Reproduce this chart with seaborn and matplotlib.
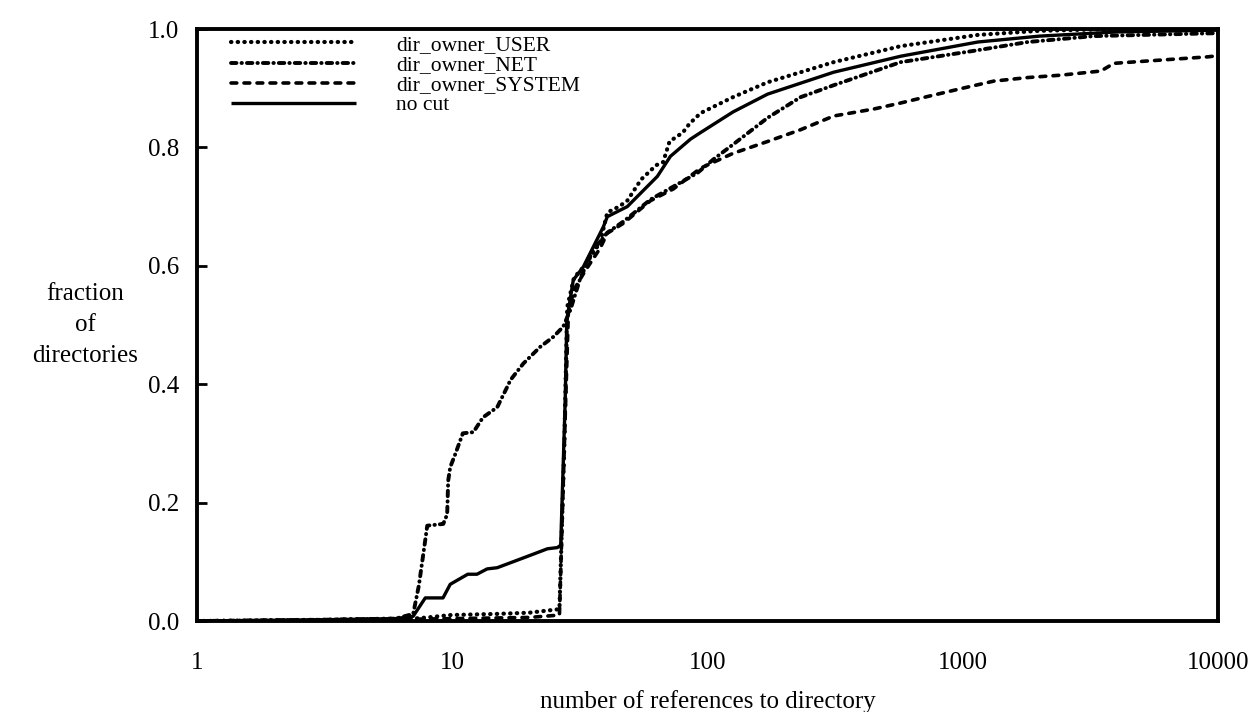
import numpy as np
import pandas as pd
import matplotlib
matplotlib.use("Agg")
import matplotlib.pyplot as plt
import seaborn as sns

# ---- data (x: number of references, y: cumulative fraction) ----
user_x = [1, 3, 6, 7, 8, 9.8, 12, 15, 20, 26.3, 27.5, 28.2, 30, 33, 38, 40.5, 45, 48.5, 52, 55,
          63, 67, 71, 80, 85, 94, 126, 172, 312, 571, 1145, 2000, 4000, 10000]
user_y = [0.0, 0.002, 0.004, 0.004, 0.006, 0.01, 0.011, 0.012, 0.014, 0.02, 0.3, 0.53, 0.58, 0.6, 0.64, 0.69, 0.70, 0.71, 0.73, 0.746,
          0.77, 0.775, 0.81, 0.825, 0.84, 0.858, 0.885, 0.91, 0.944, 0.971, 0.99, 0.997, 1.0, 1.0]

net_x = [1, 3, 6, 7.03, 7.4, 7.8, 7.98, 9.22, 9.55, 9.64, 9.82, 10.3, 11.0, 12.1, 13.2, 15.0, 16.4, 16.9,
         19.0, 22.1, 24.9, 27.2, 29.0, 31.8, 35.7, 40.5, 46.9, 59.8, 73.6, 91.4, 105.6, 126, 172, 232, 312,
         571, 1100, 1798, 3264, 10000]
net_y = [0.0, 0.002, 0.004, 0.012, 0.06, 0.13, 0.161, 0.164, 0.18, 0.237, 0.26, 0.283, 0.317, 0.319, 0.344, 0.361, 0.395, 0.407,
         0.435, 0.463, 0.48, 0.497, 0.525, 0.58, 0.627, 0.656, 0.675, 0.712, 0.734, 0.757, 0.78, 0.805, 0.85, 0.885, 0.905,
         0.944, 0.963, 0.978, 0.988, 0.993]

sys_x = [1, 3, 6, 7, 10, 20, 26.3, 27.5, 28.5, 30, 33, 38, 40.5, 46.9, 59.8, 73.6, 94, 126, 172, 232, 312,
         450, 571, 729, 1000, 1324, 1798, 2421, 3475, 3910, 5310, 9140, 10000]
sys_y = [0.0, 0.001, 0.002, 0.003, 0.004, 0.006, 0.01, 0.3, 0.52, 0.56, 0.59, 0.63, 0.655, 0.672, 0.71, 0.73, 0.765, 0.79, 0.81, 0.83, 0.853,
         0.865, 0.875, 0.886, 0.90, 0.912, 0.918, 0.922, 0.929, 0.942, 0.946, 0.953, 0.955]

nocut_x = [1, 3, 6, 7.03, 7.84, 9.2, 9.82, 11.5, 12.5, 13.7, 15.0, 17.3, 20.8, 23.6, 25.8, 26.6, 27.7, 28.1,
           29.8, 32.6, 39.1, 40.5, 48.5, 63.6, 71.6, 85.8, 93.9, 126, 172, 312, 571, 1145, 2000, 4000, 10000]
nocut_y = [0.0, 0.002, 0.004, 0.008, 0.039, 0.039, 0.062, 0.079, 0.079, 0.088, 0.09, 0.10, 0.113, 0.122, 0.124, 0.128, 0.373, 0.508,
           0.576, 0.598, 0.666, 0.683, 0.70, 0.751, 0.785, 0.814, 0.825, 0.86, 0.89, 0.927, 0.954, 0.978, 0.988, 0.995, 0.998]

labels = ["dir_owner_USER", "dir_owner_NET", "dir_owner_SYSTEM", "no cut"]
xticks = [1, 10, 100, 1000, 10000]
xtick_labels = ["1", "10", "100", "1000", "10000"]
yticks = [0.0, 0.2, 0.4, 0.6, 0.8, 1.0]
ytick_labels = ["0.0", "0.2", "0.4", "0.6", "0.8", "1.0"]

sns.set_theme(style="white")
plt.rcParams["font.family"] = ["Liberation Serif", "DejaVu Serif"]

fig = plt.figure(figsize=(12.54, 7.12), dpi=100)
ax = fig.add_axes([197 / 1254, 1 - 621 / 712, (1218 - 197) / 1254, (621 - 29) / 712])

series = [
    (user_x, user_y, labels[0], (0, (0.1, 1.5)), 3.0),
    (net_x, net_y, labels[1], (0, (1.4, 1.3, 0.1, 1.3)), 2.8),
    (sys_x, sys_y, labels[2], (0, (1.6, 2.0)), 2.6),
    (nocut_x, nocut_y, labels[3], "-", 2.4),
]
for xs, ys, lab, ls, lw in series:
    df = pd.DataFrame({"x": xs, "y": ys})
    sns.lineplot(data=df, x="x", y="y", ax=ax, color="black", linewidth=lw,
                 linestyle=ls, dash_capstyle="round", solid_capstyle="butt",
                 estimator=None, sort=False, label=lab)

ax.set_xscale("log")
ax.set_xlim(1, 10000)
ax.set_ylim(0, 1)
ax.set_xticks(xticks)
ax.set_xticklabels(xtick_labels)
ax.minorticks_off()
ax.set_yticks(yticks)
ax.set_yticklabels(ytick_labels)
ax.tick_params(axis="x", length=0, pad=22, labelsize=18, colors="black")
ax.tick_params(axis="y", direction="in", length=7, width=2, pad=13, labelsize=18,
               colors="black", left=True)
for sp in ax.spines.values():
    sp.set_linewidth(2.8)
    sp.set_color("black")

ax.set_xlabel("number of references to directory", fontsize=18, labelpad=12, color="black")
ax.set_ylabel("fraction\nof\ndirectories", fontsize=18, rotation=0, ha="center",
              va="center", color="black", linespacing=1.5)
ax.yaxis.set_label_coords(-112 / 1021, (621 - 325) / 592)

leg = ax.legend(loc="upper left", bbox_to_anchor=(0.033, 0.99), frameon=False,
                fontsize=15.5, handlelength=5.8, handletextpad=1.9, labelspacing=0.0,
                borderaxespad=0, borderpad=0)
for t in leg.get_texts():
    t.set_color("black")

fig.savefig("out.png", dpi=100, facecolor="white")
